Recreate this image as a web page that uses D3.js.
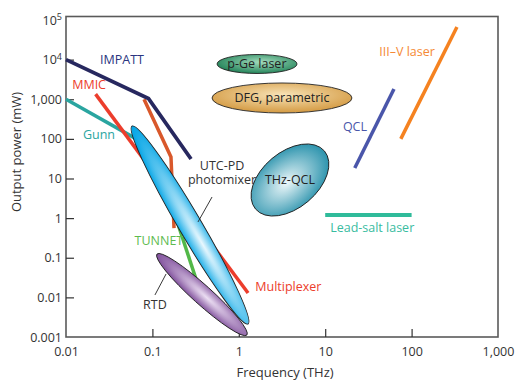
<!DOCTYPE html>
<html>
<head>
<meta charset="utf-8">
<script src="https://cdn.jsdelivr.net/npm/d3@7.9.0/dist/d3.min.js"></script>
<style>
  body { margin: 0; background: #fff; }
  svg { display: block; font-family: "Open Sans", "Noto Sans", sans-serif; }
</style>
</head>
<body>
<div id="chart"></div>
<script>
// ---- data (frequency in THz, output power in mW) ----
const xTicks = [0.01, 0.1, 1, 10, 100, 1000];
const xTickLabels = ["0.01", "0.1", "1", "10", "100", "1,000"];
const yTicks = [0.001, 0.01, 0.1, 1, 10, 100, 1000, 1e4, 1e5];
const yTickLabels = ["0.001", "0.01", "0.1", "1", "10", "100", "1,000", "10|4", "10|5"];

// line-type sources
const impatt = [[0.01, 10000], [0.09, 1050], [0.28, 31]];
const mmic = [[0.022, 1350], [0.08, 30]];
const multiplier = [[0.08, 1000], [0.164, 35], [0.178, 0.56]];
const gunn = [[0.01, 1000], [0.065, 100]];
const tunnet = [[0.16, 2.9], [0.328, 0.0244]];
const multiplexer = [[0.311, 0.8], [1.28, 0.0129]];
const qcl = [[22, 18.4], [62.5, 1815]];
const iiiv = [[75, 100], [335, 66500]];
const leadSalt = [[10, 1.2], [100, 1.2]];

// blob-type sources: the two ends of each ellipse
const utcpd = [[0.058, 211], [1.28, 0.00213]];
const rtd = [[0.113, 0.124], [1.24, 0.00112]];
const thzqcl = [[1.56, 1.7], [9.8, 49.4]];
const pge = [[0.56, 7760], [4.72, 7760]];
const dfg = [[0.49, 1076], [20.4, 1076]];

// leader lines
const utcLeader = [[0.49, 3.41], [0.337, 0.8]];
const rtdLeader = [[0.107, 0.0115], [0.144, 0.039]];

// labels: text lines, frequency, power
const labels = [
  { text: ["IMPATT"], f: 0.0445, p: 9800, color: "#2b3580" },
  { text: ["MMIC"], f: 0.0185, p: 2290, color: "#ec3d2c" },
  { text: ["Gunn"], f: 0.0241, p: 125, color: "#2aa5a0" },
  { text: ["UTC-PD", "photomixer"], f: 0.64, p: 21.5, color: "#333" },
  { text: ["THz-QCL"], f: 3.91, p: 9.2, color: "#222" },
  { text: ["p-Ge laser"], f: 1.62, p: 7760, color: "#222" },
  { text: ["DFG, parametric"], f: 3.16, p: 1076, color: "#222" },
  { text: ["QCL"], f: 22.1, p: 200, color: "#4a56aa" },
  { text: ["III\u2013V laser"], f: 88.5, p: 15600, color: "#f58a35" },
  { text: ["Lead-salt laser"], f: 35, p: 0.56, color: "#38bc9f" },
  { text: ["Multiplexer"], f: 3.75, p: 0.0183, color: "#ec3d2c" },
  { text: ["TUNNET"], f: 0.119, p: 0.265, color: "#5dbb4f" },
  { text: ["RTD"], f: 0.107, p: 0.0064, color: "#333" }
];

const W = 515, H = 381;
const svg = d3.select("#chart").append("svg").attr("width", W).attr("height", H);

const x = d3.scaleLog().domain([0.01, 1000]).range([66, 498]);
const y = d3.scaleLog().domain([0.001, 1e5]).range([337, 20]);

const defs = svg.append("defs");
function radial(id, edge, mid, fx, fy) {
  const g = defs.append("radialGradient").attr("id", id)
    .attr("cx", fx).attr("cy", fy).attr("r", 0.6).attr("fx", fx).attr("fy", fy);
  g.append("stop").attr("offset", "0%").attr("stop-color", mid);
  g.append("stop").attr("offset", "100%").attr("stop-color", edge);
}
radial("gUtc", "#05a6e6", "#eaf8fe", 0.6, 0.45);
radial("gRtd", "#7a4897", "#ecdff3", 0.55, 0.45);
radial("gQcl", "#1a8aa6", "#eef8fa", 0.45, 0.5);
radial("gPge", "#24845a", "#a3dcbd", 0.55, 0.4);
radial("gDfg", "#d49a42", "#f8e4b8", 0.5, 0.4);

// frame
svg.append("rect")
  .attr("x", x.range()[0]).attr("y", 16.5)
  .attr("width", x.range()[1] - x.range()[0]).attr("height", y.range()[0] - 16.5)
  .attr("fill", "none").attr("stroke", "#5a5a5a").attr("stroke-width", 1.6);

// axes (ticks point inward)
const xAxis = svg.append("g").attr("transform", `translate(0,${y.range()[0]})`)
  .call(d3.axisBottom(x).tickValues(xTicks).tickSize(-8).tickPadding(10)
    .tickFormat((d, i) => xTickLabels[i]));
const yAxis = svg.append("g").attr("transform", `translate(${x.range()[0]},0)`)
  .call(d3.axisLeft(y).tickValues(yTicks).tickSize(-8).tickPadding(4)
    .tickFormat((d, i) => yTickLabels[i]));
[xAxis, yAxis].forEach(a => {
  a.select(".domain").remove();
  a.selectAll("line").attr("stroke", "#333").attr("stroke-width", 1.2);
  a.selectAll("text").attr("fill", "#333").style("font-size", "12.5px")
    .style("font-family", "'Open Sans', sans-serif");
});
xAxis.selectAll(".tick").filter(d => d === 0.01 || d === 1000).select("line").remove();
yAxis.selectAll(".tick").filter(d => d === 0.001 || d === 1e5).select("line").remove();
yAxis.selectAll("text").each(function () {
  const t = d3.select(this), s = t.text();
  if (s.includes("|")) {
    const [b, e] = s.split("|");
    t.text(b);
    t.append("tspan").attr("dy", "-0.5em").style("font-size", "9px").text(e);
  }
});

svg.append("text").attr("x", 285).attr("y", 377).attr("text-anchor", "middle")
  .attr("fill", "#333").style("font-size", "13px").text("Frequency (THz)");
svg.append("text").attr("transform", "translate(21,152) rotate(-90)")
  .attr("text-anchor", "middle").attr("fill", "#333").style("font-size", "13px")
  .text("Output power (mW)");

// lines
const line = d3.line().x(d => x(d[0])).y(d => y(d[1]));
const lineSeries = [
  { data: gunn, color: "#2aa5a0", w: 3.5 },
  { data: mmic, color: "#ec3d2c", w: 3.5 },
  { data: multiplier, color: "#d9582b", w: 3.5 },
  { data: impatt, color: "#27285f", w: 3.8 },
  { data: tunnet, color: "#52b848", w: 3.5 },
  { data: multiplexer, color: "#ec3d2c", w: 3.5 },
  { data: qcl, color: "#4a56aa", w: 3.5 },
  { data: iiiv, color: "#f58220", w: 3.5 },
  { data: leadSalt, color: "#2fbb9a", w: 3.8 }
];
svg.append("g").selectAll("path").data(lineSeries).join("path")
  .attr("d", d => line(d.data)).attr("fill", "none")
  .attr("stroke", d => d.color).attr("stroke-width", d => d.w);

// ellipses
const blobs = [
  { ends: rtd, half: 9.5, fill: "url(#gRtd)" },
  { ends: utcpd, half: 11.5, fill: "url(#gUtc)" },
  { ends: thzqcl, half: 28, fill: "url(#gQcl)" },
  { ends: pge, half: 9.5, fill: "url(#gPge)" },
  { ends: dfg, half: 15, fill: "url(#gDfg)" }
];
blobs.forEach(b => {
  const [a, c] = b.ends;
  const x1 = x(a[0]), y1 = y(a[1]), x2 = x(c[0]), y2 = y(c[1]);
  const ang = Math.atan2(y2 - y1, x2 - x1) * 180 / Math.PI;
  const len = Math.hypot(x2 - x1, y2 - y1) / 2;
  svg.append("ellipse")
    .attr("transform", `translate(${(x1 + x2) / 2},${(y1 + y2) / 2}) rotate(${ang})`)
    .attr("rx", len).attr("ry", b.half)
    .attr("fill", b.fill).attr("stroke", "#222").attr("stroke-width", 0.9);
});

// leaders
[utcLeader, rtdLeader].forEach(l => {
  svg.append("path").attr("d", line(l)).attr("stroke", "#222")
    .attr("stroke-width", 0.9).attr("fill", "none");
});

// labels
svg.append("g").selectAll("text").data(labels).join("text")
  .attr("y", d => y(d.p)).attr("text-anchor", "middle").attr("fill", d => d.color)
  .style("font-size", "12.5px")
  .each(function (d) {
    d3.select(this).selectAll("tspan").data(d.text).join("tspan")
      .attr("x", x(d.f)).attr("dy", (t, i) => i === 0 ? "0.35em" : "14px")
      .text(t => t);
  });
</script>
</body>
</html>
